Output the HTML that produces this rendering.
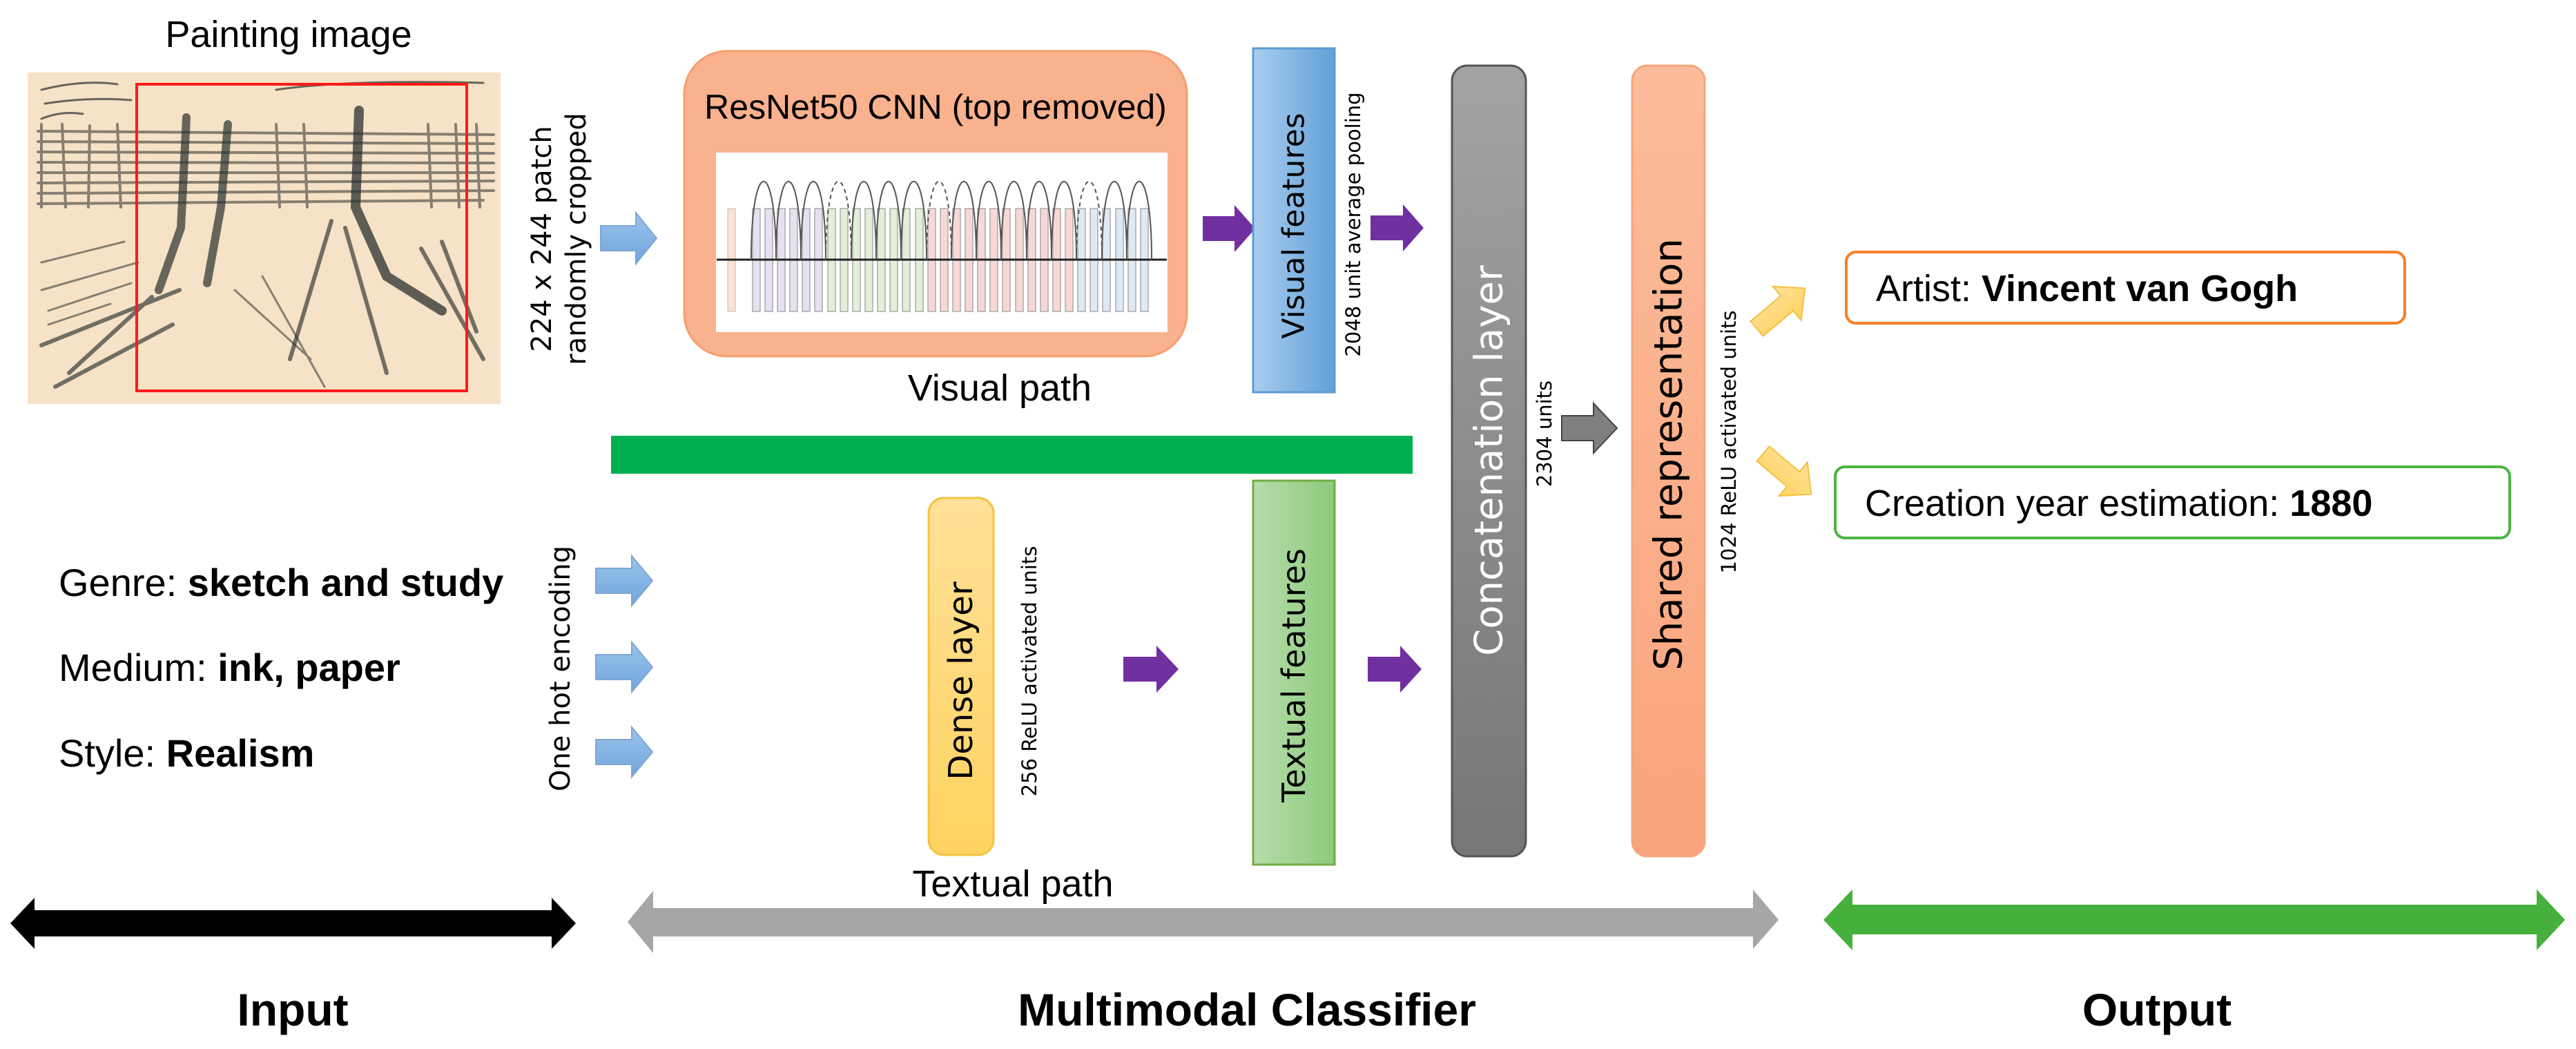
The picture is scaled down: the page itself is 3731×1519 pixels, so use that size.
<!DOCTYPE html>
<html><head><meta charset="utf-8"><style>
html,body{margin:0;padding:0;background:#fff}
svg{display:block}
text{font-family:"Liberation Sans",sans-serif}
.dv{font-family:"DejaVu Sans","Liberation Sans",sans-serif}
</style></head><body>
<svg width="3731" height="1519" viewBox="0 0 3731 1519" xmlns="http://www.w3.org/2000/svg">
<defs>
<linearGradient id="gBlue" x1="0" x2="1" y1="0" y2="0"><stop offset="0" stop-color="#a9cdee"/><stop offset="1" stop-color="#62a0d8"/></linearGradient>
<linearGradient id="gGreen" x1="0" x2="1"><stop offset="0" stop-color="#b7dcaa"/><stop offset="1" stop-color="#8ccb7d"/></linearGradient>
<linearGradient id="gGray" x1="0" x2="0" y1="0" y2="1"><stop offset="0" stop-color="#a3a3a3"/><stop offset="1" stop-color="#767676"/></linearGradient>
<linearGradient id="gSal" x1="0" x2="0" y1="0" y2="1"><stop offset="0" stop-color="#fcbc9b"/><stop offset="1" stop-color="#f9a47c"/></linearGradient>
<linearGradient id="gYel" x1="0" x2="0" y1="0" y2="1"><stop offset="0" stop-color="#ffe097"/><stop offset="1" stop-color="#ffd361"/></linearGradient>
<linearGradient id="gArrB" x1="0" x2="0" y1="0" y2="1"><stop offset="0" stop-color="#9cc3ea"/><stop offset="1" stop-color="#6fa6dc"/></linearGradient>
</defs>

<!-- Painting -->
<rect x="40" y="105" width="685" height="480" fill="#f6e2c6"/>
<g stroke="#2a302f" fill="none" stroke-linecap="round">
<g stroke-width="4" opacity="0.55">
<path d="M55 190 L715 195 M55 205 L715 208 M55 220 L715 222 M55 235 L715 236 M55 250 L715 250 M55 265 L715 262 M55 280 L715 276 M55 295 L700 290"/>
<path d="M60 180 L60 300 M90 180 L95 300 M130 182 L128 300 M170 180 L175 300 M400 180 L405 300 M440 180 L445 300 M620 180 L625 300 M660 180 L665 300 M690 180 L695 300"/>
</g>
<path d="M270 170 L262 330 L230 420 M330 180 L320 300 L300 410" stroke-width="12" opacity="0.7"/>
<path d="M520 160 L515 300 L560 400 L640 450" stroke-width="14" opacity="0.75"/>
<path d="M60 500 L260 420 M80 560 L250 470 M100 540 L220 430 M480 320 L420 520 M500 330 L560 540 M610 360 L700 520 M640 350 L690 480" stroke-width="6" opacity="0.65"/>
<path d="M60 420 L200 380 M70 450 L190 410 M340 420 L450 520 M380 400 L470 560 M60 380 L180 350 M70 470 L160 440" stroke-width="3" opacity="0.55"/>
<path d="M60 130 Q120 115 170 122 M65 150 Q130 140 190 145 M60 172 Q90 160 120 165 M400 130 Q500 115 700 120" stroke-width="3" opacity="0.7"/>
</g>
<rect x="198" y="122" width="478" height="444" fill="none" stroke="#ff1a1a" stroke-width="4"/>
<text x="418" y="68" font-size="54" text-anchor="middle">Painting image</text>

<!-- rotated crop text -->
<g transform="translate(808,346) rotate(-90)" class="dv" font-size="40">
<text class="dv" x="0" y="-10" text-anchor="middle">224 x 244 patch</text>
<text class="dv" x="0" y="40" text-anchor="middle">randomly cropped</text>
</g>

<!-- ResNet box -->
<rect x="991" y="74" width="728" height="442" rx="62" fill="#fab18e" stroke="#f59e70" stroke-width="3"/>
<text x="1355" y="172" font-size="50" text-anchor="middle">ResNet50 CNN (top removed)</text>
<rect x="1037" y="221" width="654" height="260" fill="#fff"/>
<rect x="1054" y="302" width="11" height="149" fill="#fbe3d3" stroke="#bbb" stroke-width="1"/>
<g stroke="#aaa" stroke-width="1.5">
<rect x="1090" y="302" width="11" height="149" fill="#e6e0f0"/><rect x="1108" y="302" width="11" height="149" fill="#e6e0f0"/><rect x="1126" y="302" width="11" height="149" fill="#e6e0f0"/><rect x="1144" y="302" width="11" height="149" fill="#e6e0f0"/><rect x="1162" y="302" width="11" height="149" fill="#e6e0f0"/><rect x="1180" y="302" width="11" height="149" fill="#e6e0f0"/>
<rect x="1199" y="302" width="11" height="149" fill="#e3efd8"/><rect x="1217" y="302" width="11" height="149" fill="#e3efd8"/><rect x="1235" y="302" width="11" height="149" fill="#e3efd8"/><rect x="1253" y="302" width="11" height="149" fill="#e3efd8"/><rect x="1271" y="302" width="11" height="149" fill="#e3efd8"/><rect x="1289" y="302" width="11" height="149" fill="#e3efd8"/><rect x="1307" y="302" width="11" height="149" fill="#e3efd8"/><rect x="1326" y="302" width="11" height="149" fill="#e3efd8"/>
<rect x="1344" y="302" width="11" height="149" fill="#f8d8d6"/><rect x="1362" y="302" width="11" height="149" fill="#f8d8d6"/><rect x="1380" y="302" width="11" height="149" fill="#f8d8d6"/><rect x="1398" y="302" width="11" height="149" fill="#f8d8d6"/><rect x="1416" y="302" width="11" height="149" fill="#f8d8d6"/><rect x="1434" y="302" width="11" height="149" fill="#f8d8d6"/><rect x="1452" y="302" width="11" height="149" fill="#f8d8d6"/><rect x="1471" y="302" width="11" height="149" fill="#f8d8d6"/><rect x="1489" y="302" width="11" height="149" fill="#f8d8d6"/><rect x="1507" y="302" width="11" height="149" fill="#f8d8d6"/><rect x="1525" y="302" width="11" height="149" fill="#f8d8d6"/><rect x="1543" y="302" width="11" height="149" fill="#f8d8d6"/>
<rect x="1561" y="302" width="11" height="149" fill="#dfe9f4"/><rect x="1579" y="302" width="11" height="149" fill="#dfe9f4"/><rect x="1597" y="302" width="11" height="149" fill="#dfe9f4"/><rect x="1616" y="302" width="11" height="149" fill="#dfe9f4"/><rect x="1634" y="302" width="11" height="149" fill="#dfe9f4"/><rect x="1652" y="302" width="11" height="149" fill="#dfe9f4"/>
</g>
<line x1="1038" y1="376" x2="1690" y2="376" stroke="#222" stroke-width="3"/>
<g fill="none" stroke="#555" stroke-width="2">
<path d="M1088 376 C1088 225 1124 225 1124 376"/>
<path d="M1124 376 C1124 225 1160 225 1160 376"/>
<path d="M1160 376 C1160 225 1196 225 1196 376"/>
<path d="M1196 376 C1196 225 1233 225 1233 376" stroke-dasharray="6 5"/>
<path d="M1233 376 C1233 225 1269 225 1269 376"/>
<path d="M1269 376 C1269 225 1305 225 1305 376"/>
<path d="M1305 376 C1305 225 1342 225 1342 376"/>
<path d="M1342 376 C1342 225 1378 225 1378 376" stroke-dasharray="6 5"/>
<path d="M1378 376 C1378 225 1414 225 1414 376"/>
<path d="M1414 376 C1414 225 1450 225 1450 376"/>
<path d="M1450 376 C1450 225 1487 225 1487 376"/>
<path d="M1487 376 C1487 225 1523 225 1523 376"/>
<path d="M1523 376 C1523 225 1559 225 1559 376"/>
<path d="M1559 376 C1559 225 1596 225 1596 376" stroke-dasharray="6 5"/>
<path d="M1596 376 C1596 225 1632 225 1632 376"/>
<path d="M1632 376 C1632 225 1668 225 1668 376"/>
</g>
<text x="1448" y="580" font-size="54" text-anchor="middle">Visual path</text>

<!-- arrows top -->
<polygon points="870,327 921,327 921,308 951,345 921,382 921,363 870,363" fill="url(#gArrB)" stroke="#7fa6d6" stroke-width="2"/>
<polygon points="1742,313 1788,313 1788,297 1818,331 1788,365 1788,349 1742,349" fill="#7030a0"/>
<polygon points="1985,312 2032,312 2032,296 2062,330 2032,364 2032,348 1985,348" fill="#7030a0"/>

<!-- Visual features -->
<rect x="1815" y="70" width="118" height="498" fill="url(#gBlue)" stroke="#5b9bd5" stroke-width="3"/>
<text class="dv" transform="translate(1874,327) rotate(-90)" font-size="44" text-anchor="middle" dominant-baseline="central">Visual features</text>
<text class="dv" transform="translate(1960,325) rotate(-90)" font-size="29" text-anchor="middle" dominant-baseline="central">2048 unit average pooling</text>

<!-- green bar -->
<rect x="885" y="631" width="1161" height="55" fill="#00b050"/>

<!-- Concatenation -->
<rect x="2103" y="95" width="107" height="1145" rx="22" fill="url(#gGray)" stroke="#555" stroke-width="3"/>
<text class="dv" transform="translate(2157,667) rotate(-90)" font-size="56" fill="#fff" text-anchor="middle" dominant-baseline="central">Concatenation layer</text>
<text class="dv" transform="translate(2237,628) rotate(-90)" font-size="29" text-anchor="middle" dominant-baseline="central">2304 units</text>
<polygon points="2262,602 2308,602 2308,584 2342,620 2308,656 2308,638 2262,638" fill="#7f7f7f" stroke="#444" stroke-width="2"/>

<!-- Shared -->
<rect x="2364" y="95" width="105" height="1145" rx="22" fill="url(#gSal)" stroke="#f7a57c" stroke-width="3"/>
<text class="dv" transform="translate(2417,658) rotate(-90)" font-size="56" text-anchor="middle" dominant-baseline="central">Shared representation</text>
<text class="dv" transform="translate(2504,640) rotate(-90)" font-size="29" text-anchor="middle" dominant-baseline="central">1024 ReLU activated units</text>

<!-- yellow arrows -->
<g transform="translate(2579,447) rotate(-40)">
<polygon points="-45,-14 12,-14 12,-32 46,0 12,32 12,14 -45,14" fill="url(#gYel)" stroke="#f2c043" stroke-width="2"/>
</g>
<g transform="translate(2588,686) rotate(40)">
<polygon points="-45,-14 12,-14 12,-32 46,0 12,32 12,14 -45,14" fill="url(#gYel)" stroke="#f2c043" stroke-width="2"/>
</g>

<!-- outputs -->
<rect x="2674" y="365" width="809" height="103" rx="14" fill="#fff" stroke="#f57f27" stroke-width="4"/>
<text x="2717" y="436" font-size="54">Artist: <tspan font-weight="bold">Vincent van Gogh</tspan></text>
<rect x="2658" y="676" width="977" height="103" rx="14" fill="#fff" stroke="#4cb440" stroke-width="4"/>
<text x="2701" y="747" font-size="54">Creation year estimation: <tspan font-weight="bold">1880</tspan></text>

<!-- inputs -->
<text x="85" y="863" font-size="56">Genre: <tspan font-weight="bold">sketch and study</tspan></text>
<text x="85" y="986" font-size="56">Medium: <tspan font-weight="bold">ink, paper</tspan></text>
<text x="85" y="1110" font-size="56">Style: <tspan font-weight="bold">Realism</tspan></text>
<text class="dv" transform="translate(812,968) rotate(-90)" font-size="40" text-anchor="middle" dominant-baseline="central">One hot encoding</text>
<polygon points="863,823 915,823 915,805 945,841 915,877 915,859 863,859" fill="url(#gArrB)" stroke="#7fa6d6" stroke-width="2"/>
<polygon points="863,948 915,948 915,930 945,966 915,1002 915,984 863,984" fill="url(#gArrB)" stroke="#7fa6d6" stroke-width="2"/>
<polygon points="863,1071 915,1071 915,1053 945,1089 915,1125 915,1107 863,1107" fill="url(#gArrB)" stroke="#7fa6d6" stroke-width="2"/>

<!-- Dense -->
<rect x="1345" y="721" width="94" height="517" rx="22" fill="url(#gYel)" stroke="#f5c342" stroke-width="3"/>
<text class="dv" transform="translate(1392,986) rotate(-90)" font-size="48" text-anchor="middle" dominant-baseline="central">Dense layer</text>
<text class="dv" transform="translate(1491,972) rotate(-90)" font-size="29" text-anchor="middle" dominant-baseline="central">256 ReLU activated units</text>
<polygon points="1627,951 1675,951 1675,935 1707,969 1675,1003 1675,987 1627,987" fill="#7030a0"/>

<!-- Textual features -->
<rect x="1815" y="696" width="118" height="556" fill="url(#gGreen)" stroke="#70ad47" stroke-width="3"/>
<text class="dv" transform="translate(1874,978) rotate(-90)" font-size="46" text-anchor="middle" dominant-baseline="central">Textual features</text>
<polygon points="1981,951 2028,951 2028,935 2059,969 2028,1003 2028,987 1981,987" fill="#7030a0"/>
<text x="1467" y="1298" font-size="54" text-anchor="middle">Textual path</text>

<!-- bottom arrows -->
<polygon points="15,1337 50,1300 50,1318 799,1318 799,1300 834,1337 799,1374 799,1356 50,1356 50,1374" fill="#000"/>
<polygon points="909,1335 946,1290 946,1315 2539,1315 2539,1288 2576,1332 2539,1374 2539,1356 946,1356 946,1380" fill="#a6a6a6"/>
<polygon points="2641,1332 2683,1288 2683,1310 3674,1310 3674,1288 3715,1332 3674,1376 3674,1353 2683,1353 2683,1376" fill="#45b03b"/>

<text x="424" y="1485" font-size="66" font-weight="bold" text-anchor="middle">Input</text>
<text x="1806" y="1485" font-size="66" font-weight="bold" text-anchor="middle">Multimodal Classifier</text>
<text x="3124" y="1485" font-size="66" font-weight="bold" text-anchor="middle">Output</text>
</svg>
</body></html>
